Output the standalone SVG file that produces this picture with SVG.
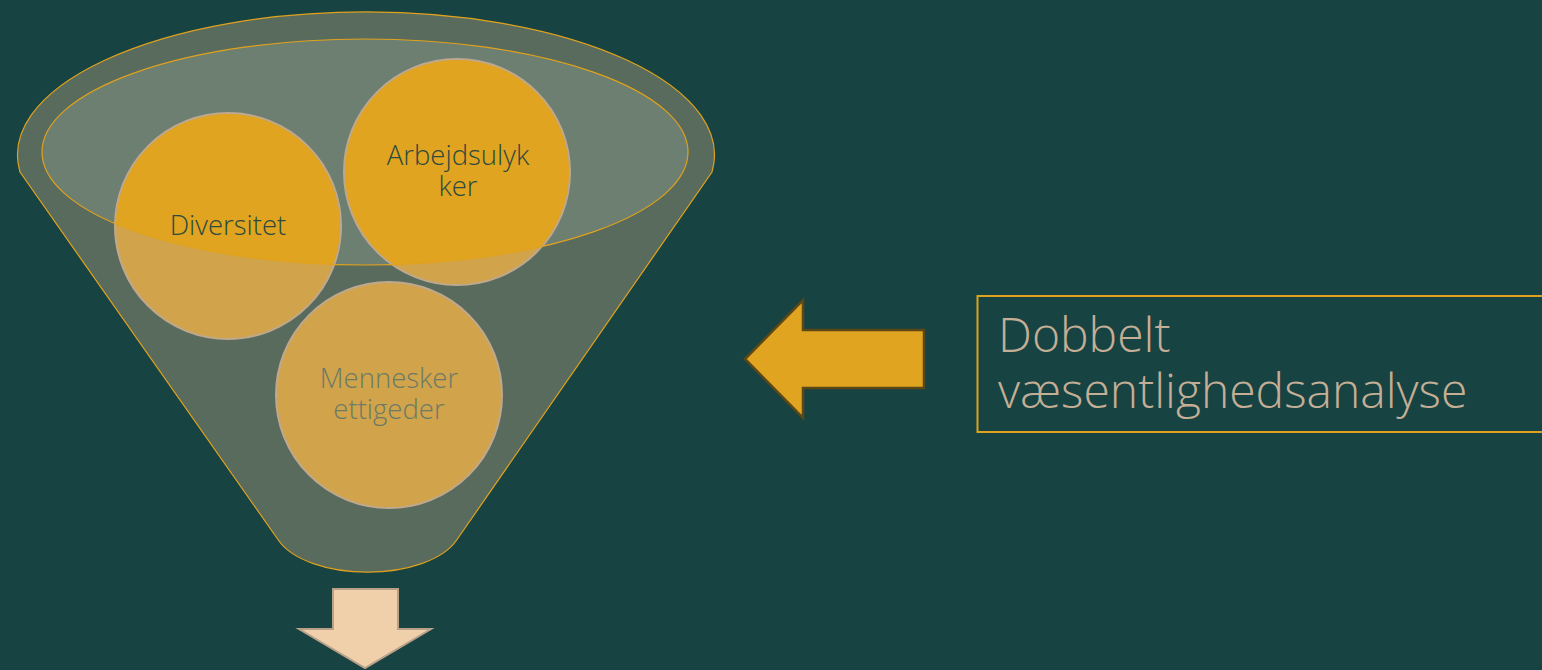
<svg xmlns="http://www.w3.org/2000/svg" width="1542" height="670" viewBox="0 0 1542 670">
<defs>
<style>
.lbl{font-family:"Open Sans","Liberation Sans",sans-serif;font-weight:300;text-anchor:middle;font-size:27.5px}
.circ{fill:#d1a44b;stroke:#bea88f;stroke-width:2}
.bright{fill:#e0a420}
</style>
<clipPath id="inner"><ellipse cx="365" cy="152" rx="323" ry="113"/></clipPath>
</defs>
<rect width="1542" height="670" fill="#174342"/>
<g id="funnel">
<path d="M20,172 A348.5,143 0 1 1 712,172 L456,541 A94,47 0 0 1 279,541 Z" fill="#596b5d" stroke="#e0a21e" stroke-width="1.2"/>
<ellipse cx="365" cy="152" rx="323" ry="113" fill="#6d7f70"/>
</g>
<g id="node-diversitet">
<circle class="circ" cx="228" cy="226" r="113"/>
<circle class="bright" cx="228" cy="226" r="112" clip-path="url(#inner)"/>
</g>
<g id="node-arbejdsulykker">
<circle class="circ" cx="457" cy="172" r="113"/>
<circle class="bright" cx="457" cy="172" r="112" clip-path="url(#inner)"/>
</g>
<g id="node-mennesker">
<circle class="circ" cx="389" cy="395" r="113"/>
</g>
<ellipse cx="365" cy="152" rx="323" ry="113" fill="none" stroke="#e0a21e" stroke-width="1.2"/>
<text class="lbl" x="228" y="235" fill="#2d4a3e">Diversitet</text>
<text class="lbl" fill="#2d4a3e"><tspan x="458" y="165">Arbejdsulyk</tspan><tspan x="458" y="196">ker</tspan></text>
<text class="lbl" fill="#6c7a66"><tspan x="389" y="388">Mennesker</tspan><tspan x="389" y="419">ettigeder</tspan></text>
<g id="connectors">
<path d="M333,589 L398,589 L398,629 L431,629 L365,668 L299,629 L333,629 Z" fill="#efd0ab" stroke="#b9a089" stroke-width="2"/>
<path d="M745,359 L803,300 L803,330 L924,330 L924,388 L803,388 L803,418 Z" fill="#e0a420" stroke="#5c4716" stroke-width="2.5"/>
</g>
<g id="node-dobbelt">
<rect x="977.5" y="296" width="580" height="136" fill="none" stroke="#e0a21e" stroke-width="2"/>
<text font-family="'Open Sans','Liberation Sans',sans-serif" font-weight="300" font-size="48" fill="#c4ae96"><tspan x="998" y="352">Dobbelt</tspan><tspan x="998" y="408">væsentlighedsanalyse</tspan></text>
</g>
</svg>
